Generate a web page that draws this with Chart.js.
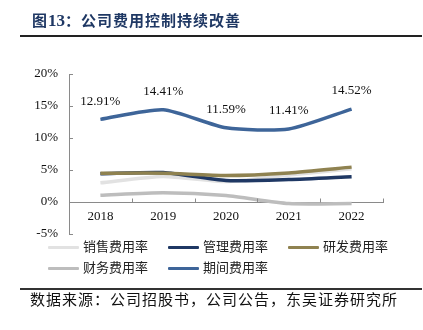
<!DOCTYPE html>
<html><head><meta charset="utf-8">
<script src="https://cdn.jsdelivr.net/npm/chart.js@4.4.1/dist/chart.umd.min.js"></script>
<style>
html,body{margin:0;padding:0;background:#fff;width:423px;height:330px;overflow:hidden;position:relative;}
#title{position:absolute;left:32px;top:10px;font-family:"Noto Sans CJK SC";font-weight:bold;font-size:15px;letter-spacing:1px;color:#1F3864;white-space:nowrap;line-height:20px;}
#title .num{font-family:"Liberation Serif";font-size:17px;letter-spacing:0;}
#tline{position:absolute;left:20px;top:35px;width:402px;height:2px;background:#222;}
#bline{position:absolute;left:20px;top:288px;width:402px;height:1.5px;background:#333;}
#src{position:absolute;left:30px;top:289px;font-family:"Noto Sans CJK SC";font-size:15px;letter-spacing:1px;color:#111;white-space:nowrap;line-height:20px;}
#wrap{position:absolute;left:0;top:0;width:423px;height:330px;}
#legend{position:absolute;left:0;top:236px;width:423px;font-family:"Noto Sans CJK SC";font-size:13px;color:#222;}
.li{position:absolute;height:20px;line-height:20px;white-space:nowrap;}
.li span.sw{display:inline-block;width:31px;height:3px;vertical-align:middle;margin-right:4px;border-radius:1px;}
</style></head>
<body>
<div id="wrap"><canvas id="c" width="423" height="330"></canvas></div>
<div id="title">图<span class="num">13</span>：公司费用控制持续改善</div>
<div id="tline"></div>
<div id="legend"></div>
<div id="bline"></div>
<div id="src">数据来源：公司招股书，公司公告，东吴证券研究所</div>
<script>
const categories = ["2018","2019","2020","2021","2022"];
const seriesNames = ["销售费用率","管理费用率","研发费用率","财务费用率","期间费用率"];
const salesRate   = [3.0, 4.0, 3.2, 4.2, 5.2];
const adminRate   = [4.4, 4.6, 3.35, 3.5, 3.95];
const rdRate      = [4.5, 4.5, 4.15, 4.55, 5.45];
const financeRate = [1.05, 1.45, 1.0, -0.25, -0.25];
const periodRate  = [12.91, 14.41, 11.59, 11.41, 14.52];
const yTicks = [-5, 0, 5, 10, 15, 20];

const colors = ["#E2E2E2","#1F3864","#8F8250","#BDBDBD","#3E6599"];
const values = [salesRate, adminRate, rdRate, financeRate, periodRate];
const order = [4,3,0,2,1];

const datasets = values.map((v,i)=>({
  label: seriesNames[i], data: v, borderColor: colors[i], backgroundColor: colors[i],
  borderWidth: 3.5, pointRadius: 0, tension: 0.22, fill:false, order: order[i]
}));

// legend (HTML)
const legPos = [[48,0],[168,0],[288,0],[48,21],[168,21]];
const leg = document.getElementById('legend');
seriesNames.forEach((n,i)=>{
  const d = document.createElement('div'); d.className='li';
  d.style.left = legPos[i][0]+'px'; d.style.top = legPos[i][1]+'px';
  d.innerHTML = '<span class="sw" style="background:'+colors[i]+'"></span>'+n;
  leg.appendChild(d);
});

const extras = {
  id:'extras',
  afterDraw(chart){
    const ctx = chart.ctx, x = chart.scales.x, y = chart.scales.y, ca = chart.chartArea;
    ctx.save();
    ctx.strokeStyle = '#8a8a8a'; ctx.lineWidth = 1;
    yTicks.forEach(t=>{
      const py = Math.round(y.getPixelForValue(t))+0.5;
      ctx.beginPath(); ctx.moveTo(ca.left, py); ctx.lineTo(ca.left+4, py); ctx.stroke();
    });
    const y0 = Math.round(y.getPixelForValue(0))+0.5;
    const w = (ca.right-ca.left)/categories.length;
    for(let i=1;i<=categories.length;i++){
      const px = Math.round(ca.left + i*w)+0.5;
      ctx.beginPath(); ctx.moveTo(px, y0); ctx.lineTo(px, y0-4); ctx.stroke();
    }
    const meta = chart.getDatasetMeta(4);
    ctx.fillStyle = '#111'; ctx.font = '13px "Liberation Serif"';
    ctx.textAlign = 'center'; ctx.textBaseline = 'middle';
    meta.data.forEach((p,i)=>{
      ctx.fillText(periodRate[i].toFixed(2)+'%', p.x, p.y-18);
    });
    ctx.restore();
  }
};

new Chart(document.getElementById('c'), {
  type:'line',
  data:{labels:categories, datasets},
  options:{
    responsive:false, animation:false,
    layout:{padding:{top:74, bottom:96, left:0, right:40}},
    plugins:{legend:{display:false}, tooltip:{enabled:false}},
    scales:{
      x:{
        position:{y:0}, offset:true,
        grid:{display:false, drawTicks:false},
        border:{display:true, color:'#8a8a8a', width:1},
        ticks:{color:'#111', font:{family:'Liberation Serif', size:13}, padding:7, maxRotation:0}
      },
      y:{
        min:-5, max:20,
        afterBuildTicks(s){ s.ticks = yTicks.map(v=>({value:v})); },
        afterFit(s){ s.width = 69; },
        grid:{display:false, drawTicks:false},
        border:{display:true, color:'#8a8a8a', width:1},
        ticks:{color:'#111', font:{family:'Liberation Serif', size:13}, padding:11, callback:v=>v+'%'}
      }
    }
  },
  plugins:[extras]
});
</script>
</body></html>
